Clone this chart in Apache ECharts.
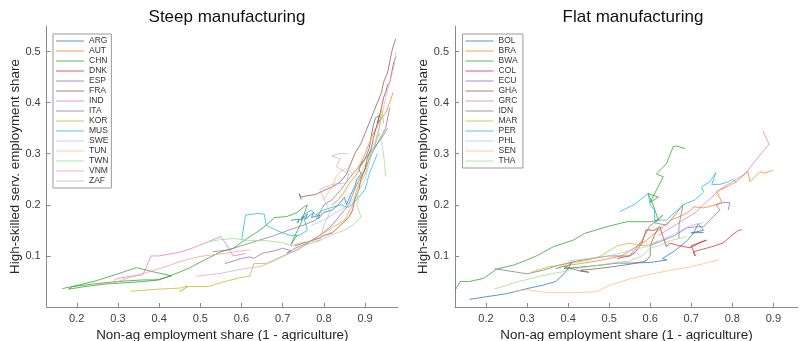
<!DOCTYPE html>
<html><head><meta charset="utf-8">
<script src="https://cdn.jsdelivr.net/npm/echarts@6/dist/echarts.min.js"></script>
<style>html,body{margin:0;padding:0;background:#fff}#c{width:803px;height:341px}</style>
</head><body><div id="c"></div>
<script>
// ---- Steep manufacturing (x = non-ag share, y = high-skilled services share)
const ARG = [[0.72,0.17],[0.74,0.172],[0.735,0.165],[0.75,0.178],[0.745,0.17],[0.76,0.182],[0.755,0.172],[0.775,0.185],[0.77,0.175],[0.79,0.18],[0.785,0.172],[0.8,0.185],[0.82,0.19],[0.835,0.2],[0.85,0.215],[0.855,0.2],[0.865,0.22],[0.875,0.235],[0.88,0.25],[0.89,0.26],[0.885,0.27],[0.9,0.29],[0.91,0.31],[0.915,0.335],[0.92,0.355],[0.925,0.37],[0.935,0.375],[0.93,0.36],[0.94,0.37]];
const AUT = [[0.82,0.2],[0.835,0.21],[0.85,0.225],[0.86,0.24],[0.87,0.25],[0.88,0.26],[0.89,0.28],[0.9,0.3],[0.91,0.32],[0.92,0.34],[0.93,0.355],[0.94,0.37],[0.95,0.38],[0.955,0.39],[0.962,0.405],[0.968,0.42]];
const CHN = [[0.165,0.036],[0.2,0.042],[0.25,0.052],[0.3,0.065],[0.345,0.077],[0.39,0.068],[0.43,0.061],[0.39,0.052],[0.33,0.048],[0.27,0.045],[0.22,0.04],[0.18,0.035],[0.19,0.04],[0.24,0.045],[0.3,0.05],[0.36,0.053],[0.4,0.053],[0.43,0.062],[0.47,0.075],[0.51,0.092],[0.55,0.108],[0.58,0.115],[0.61,0.132],[0.64,0.148],[0.66,0.16],[0.68,0.175],[0.71,0.177],[0.735,0.185],[0.75,0.195],[0.76,0.2],[0.745,0.165],[0.73,0.14],[0.72,0.122],[0.735,0.14]];
const DNK = [[0.73,0.12],[0.75,0.125],[0.77,0.13],[0.79,0.135],[0.8,0.14],[0.82,0.145],[0.84,0.16],[0.86,0.175],[0.87,0.19],[0.875,0.21],[0.885,0.23],[0.89,0.25],[0.9,0.27],[0.905,0.29],[0.915,0.31],[0.92,0.33],[0.93,0.36],[0.94,0.39],[0.945,0.41],[0.95,0.42],[0.955,0.435],[0.96,0.44],[0.965,0.46],[0.97,0.48],[0.975,0.49]];
const ESP = [[0.56,0.085],[0.58,0.09],[0.6,0.095],[0.62,0.098],[0.63,0.095],[0.65,0.105],[0.68,0.11],[0.7,0.115],[0.72,0.11],[0.71,0.105],[0.73,0.115],[0.76,0.125],[0.79,0.14],[0.82,0.16],[0.84,0.18],[0.86,0.2],[0.87,0.22],[0.88,0.24],[0.9,0.27],[0.91,0.29],[0.93,0.32],[0.95,0.35],[0.955,0.37],[0.96,0.39]];
const FRA = [[0.745,0.21],[0.74,0.222],[0.745,0.215],[0.76,0.218],[0.78,0.22],[0.8,0.228],[0.82,0.235],[0.84,0.245],[0.855,0.26],[0.865,0.28],[0.875,0.3],[0.89,0.32],[0.9,0.34],[0.91,0.36],[0.92,0.38],[0.93,0.4],[0.94,0.42],[0.945,0.44],[0.955,0.46],[0.96,0.48],[0.965,0.5],[0.97,0.515],[0.975,0.525]];
const IND = [[0.29,0.052],[0.3,0.056],[0.33,0.06],[0.36,0.063],[0.37,0.08],[0.38,0.1],[0.4,0.1],[0.45,0.107],[0.48,0.115],[0.52,0.128],[0.55,0.138],[0.565,0.12],[0.58,0.1],[0.6,0.103],[0.61,0.105]];
const ITA = [[0.53,0.108],[0.57,0.112],[0.6,0.12],[0.64,0.13],[0.68,0.14],[0.72,0.152],[0.75,0.16],[0.78,0.17],[0.8,0.2],[0.82,0.21],[0.84,0.228],[0.86,0.25],[0.88,0.27],[0.9,0.29],[0.92,0.31],[0.94,0.33],[0.955,0.35]];
const KOR = [[0.33,0.031],[0.4,0.035],[0.45,0.037],[0.47,0.041],[0.45,0.03],[0.47,0.04],[0.52,0.04],[0.56,0.05],[0.6,0.058],[0.62,0.06],[0.63,0.085],[0.66,0.085],[0.7,0.1],[0.74,0.113],[0.78,0.135],[0.82,0.155],[0.85,0.17],[0.87,0.2],[0.88,0.23],[0.9,0.26],[0.91,0.29],[0.925,0.32],[0.935,0.35],[0.94,0.39],[0.945,0.36]];
const MUS = [[0.6,0.13],[0.61,0.18],[0.64,0.183],[0.655,0.182],[0.66,0.16],[0.68,0.152],[0.7,0.145],[0.72,0.14],[0.74,0.14],[0.76,0.15],[0.75,0.18],[0.77,0.19],[0.78,0.18],[0.8,0.19],[0.82,0.195],[0.84,0.2],[0.86,0.195],[0.88,0.21],[0.9,0.23],[0.91,0.26],[0.92,0.28],[0.93,0.3]];
const SWE = [[0.77,0.16],[0.8,0.17],[0.83,0.185],[0.86,0.2],[0.88,0.22],[0.9,0.25],[0.91,0.28],[0.92,0.31],[0.93,0.34],[0.94,0.37],[0.95,0.41],[0.96,0.44],[0.97,0.47],[0.975,0.5]];
const TUN = [[0.8,0.21],[0.82,0.235],[0.83,0.255],[0.84,0.265],[0.85,0.27],[0.86,0.27],[0.87,0.26],[0.88,0.27],[0.9,0.3],[0.91,0.32],[0.92,0.34]];
const TWN = [[0.52,0.128],[0.55,0.132],[0.58,0.134],[0.62,0.13],[0.66,0.13],[0.7,0.126],[0.72,0.12],[0.75,0.127],[0.79,0.13],[0.82,0.142],[0.85,0.15],[0.87,0.16],[0.89,0.176],[0.88,0.2],[0.885,0.25],[0.9,0.28],[0.92,0.31],[0.935,0.34],[0.945,0.3],[0.95,0.255]];
const VNM = [[0.25,0.045],[0.29,0.047],[0.33,0.058],[0.38,0.07],[0.42,0.08],[0.45,0.089],[0.5,0.099],[0.56,0.105],[0.6,0.11],[0.62,0.112]];
const ZAF = [[0.49,0.06],[0.55,0.066],[0.6,0.074],[0.65,0.08],[0.7,0.098],[0.75,0.12],[0.79,0.13],[0.8,0.16],[0.815,0.185],[0.79,0.23],[0.82,0.24],[0.855,0.243],[0.86,0.26],[0.83,0.275],[0.84,0.29],[0.82,0.295],[0.835,0.3],[0.86,0.3]];

// ---- Flat manufacturing
const BOL = [[0.16,0.015],[0.2,0.02],[0.25,0.026],[0.3,0.036],[0.34,0.043],[0.37,0.05],[0.39,0.065],[0.4,0.075],[0.41,0.088],[0.39,0.075],[0.43,0.078],[0.48,0.082],[0.52,0.086],[0.55,0.086],[0.6,0.087],[0.64,0.092],[0.63,0.095],[0.66,0.11],[0.69,0.13],[0.705,0.144],[0.717,0.163],[0.73,0.15],[0.7,0.145],[0.73,0.146]];
const BRA = [[0.39,0.08],[0.43,0.085],[0.47,0.09],[0.5,0.095],[0.53,0.1],[0.56,0.115],[0.59,0.13],[0.62,0.15],[0.65,0.17],[0.68,0.18],[0.7,0.19],[0.705,0.196],[0.73,0.194],[0.76,0.2],[0.774,0.206],[0.762,0.226],[0.78,0.233],[0.81,0.245],[0.838,0.265],[0.843,0.245],[0.867,0.265],[0.88,0.262],[0.899,0.268]];
const BWA = [[0.125,0.033],[0.137,0.05],[0.16,0.05],[0.194,0.056],[0.226,0.074],[0.267,0.082],[0.3,0.092],[0.323,0.1],[0.364,0.118],[0.413,0.131],[0.44,0.144],[0.494,0.157],[0.543,0.167],[0.6,0.167],[0.62,0.17],[0.607,0.2],[0.595,0.222],[0.62,0.215],[0.6,0.205],[0.632,0.255],[0.615,0.26],[0.64,0.281],[0.656,0.314],[0.665,0.315],[0.685,0.31]];
const COL = [[0.52,0.095],[0.55,0.1],[0.563,0.106],[0.58,0.125],[0.59,0.151],[0.61,0.15],[0.624,0.157],[0.63,0.14],[0.64,0.118],[0.648,0.125],[0.67,0.12],[0.697,0.116],[0.72,0.125],[0.737,0.131],[0.7,0.12],[0.71,0.1],[0.705,0.108],[0.75,0.118],[0.777,0.125],[0.8,0.141],[0.815,0.15],[0.823,0.151]];
const ECU = [[0.6,0.12],[0.63,0.13],[0.66,0.14],[0.69,0.155],[0.71,0.157],[0.73,0.157],[0.745,0.17],[0.754,0.177],[0.77,0.19],[0.76,0.2],[0.78,0.205],[0.794,0.204],[0.79,0.19]];
const GHA = [[0.37,0.075],[0.39,0.08],[0.41,0.075],[0.43,0.07],[0.45,0.068],[0.43,0.072],[0.47,0.075],[0.52,0.08],[0.56,0.085],[0.59,0.09],[0.6,0.1],[0.6,0.12],[0.61,0.14],[0.62,0.155]];
const GRC = [[0.62,0.14],[0.65,0.155],[0.68,0.17],[0.71,0.185],[0.73,0.2],[0.75,0.215],[0.77,0.23],[0.79,0.24],[0.81,0.25],[0.83,0.26],[0.85,0.28],[0.87,0.3],[0.885,0.315],[0.89,0.318],[0.88,0.335],[0.875,0.345]];
const IDN = [[0.22,0.075],[0.26,0.07],[0.3,0.065],[0.34,0.072],[0.37,0.08],[0.42,0.09],[0.46,0.095],[0.5,0.1],[0.55,0.1],[0.58,0.13],[0.6,0.16],[0.62,0.17],[0.63,0.18],[0.61,0.165],[0.64,0.16],[0.66,0.18],[0.68,0.2],[0.67,0.16],[0.67,0.135]];
const MAR = [[0.31,0.068],[0.35,0.078],[0.4,0.085],[0.45,0.092],[0.48,0.1],[0.5,0.11],[0.52,0.12],[0.55,0.125],[0.58,0.12],[0.6,0.122],[0.62,0.13]];
const PER = [[0.526,0.187],[0.56,0.2],[0.595,0.222],[0.6,0.2],[0.61,0.19],[0.611,0.17],[0.64,0.17],[0.66,0.185],[0.68,0.2],[0.71,0.21],[0.73,0.225],[0.725,0.235],[0.745,0.245],[0.76,0.263],[0.75,0.24],[0.77,0.24],[0.79,0.245],[0.8,0.25],[0.81,0.245]];
const PHL = [[0.4,0.09],[0.45,0.095],[0.5,0.1],[0.55,0.11],[0.6,0.12],[0.65,0.14],[0.7,0.16],[0.73,0.165]];
const SEN = [[0.265,0.03],[0.3,0.034],[0.35,0.028],[0.42,0.028],[0.47,0.03],[0.5,0.042],[0.55,0.055],[0.6,0.064],[0.65,0.072],[0.7,0.079],[0.766,0.092]];
const THA = [[0.22,0.035],[0.28,0.05],[0.33,0.06],[0.38,0.068],[0.42,0.075],[0.46,0.08],[0.5,0.085],[0.55,0.09],[0.58,0.1],[0.6,0.115],[0.625,0.121],[0.65,0.13],[0.69,0.138]];

const steepNames = ['ARG','AUT','CHN','DNK','ESP','FRA','IND','ITA','KOR','MUS','SWE','TUN','TWN','VNM','ZAF'];
const steepSeries = [ARG,AUT,CHN,DNK,ESP,FRA,IND,ITA,KOR,MUS,SWE,TUN,TWN,VNM,ZAF];
const flatNames = ['BOL','BRA','BWA','COL','ECU','GHA','GRC','IDN','MAR','PER','PHL','SEN','THA'];
const flatSeries = [BOL,BRA,BWA,COL,ECU,GHA,GRC,IDN,MAR,PER,PHL,SEN,THA];
const xTicks = [0.2,0.3,0.4,0.5,0.6,0.7,0.8,0.9];
const yTicks = [0.1,0.2,0.3,0.4,0.5];
const palette = ['#1f77b4','#ff7f0e','#2ca02c','#d62728','#9467bd','#8c564b','#e377c2','#7f7f7f','#bcbd22','#17becf','#aec7e8','#ffbb78','#98df8a','#ff9896','#c5b0d5'];

const FONT = 'Liberation Sans, Arial, Helvetica, sans-serif';
const axisCol = '#8a8a8a';
function xAx(idx, min, max){
  return {type:'value', gridIndex:idx, min:min, max:max,
    name:'Non-ag employment share (1 - agriculture)', nameLocation:'middle', nameGap:18,
    nameTextStyle:{fontFamily:FONT, fontSize:13.4, color:'#262626', verticalAlign:'top'},
    axisLine:{lineStyle:{color:axisCol,width:1}},
    axisTick:{inside:true,length:4,customValues:xTicks,lineStyle:{color:axisCol}},
    axisLabel:{customValues:xTicks,margin:6,fontFamily:FONT,fontSize:11,color:'#404040',formatter:v=>(+v).toFixed(1)},
    splitLine:{show:false}};
}
function yAx(idx, gap){
  return {type:'value', gridIndex:idx, min:0, max:0.55,
    name:'High-skilled serv. employment share', nameLocation:'middle', nameGap:gap,
    nameTextStyle:{fontFamily:FONT, fontSize:13.4, color:'#262626'},
    axisLine:{show:true,lineStyle:{color:axisCol,width:1}},
    axisTick:{show:true,inside:true,length:4,customValues:yTicks,lineStyle:{color:axisCol}},
    axisLabel:{customValues:yTicks,margin:6,fontFamily:FONT,fontSize:11,color:'#404040',formatter:v=>(+v).toFixed(1)},
    splitLine:{show:false}};
}
const series = [];
steepNames.forEach((n,i)=>series.push({name:n,type:'line',xAxisIndex:0,yAxisIndex:0,data:steepSeries[i],symbol:'none',
  color:palette[i],lineStyle:{width:1,opacity:0.75,color:palette[i]},silent:true}));
flatNames.forEach((n,i)=>series.push({name:n+' ',type:'line',xAxisIndex:1,yAxisIndex:1,data:flatSeries[i],symbol:'none',
  color:palette[i],lineStyle:{width:1,opacity:0.75,color:palette[i]},silent:true}));

const LINE_ICON = 'path://M0,0L0.01,0L0,0.01Z M0,4.5L28,4.5L28,5.5L0,5.5Z M27.99,10L28,10L28,9.99Z';
function legend(left, names){
  return {left:left, top:34, orient:'vertical', data:names, icon:LINE_ICON, padding:[2,3,2,3], itemWidth:28, itemHeight:10, itemGap:0,
    borderColor:'#9a9a9a', borderWidth:1, selectedMode:false, itemStyle:{opacity:0.75},
    textStyle:{fontFamily:FONT,fontSize:8.5,color:'#333',lineHeight:10}};
}

const chart = echarts.init(document.getElementById('c'), null, {renderer:'canvas'});
chart.setOption({
  animation:false,
  backgroundColor:'#fff',
  title:[
    {text:'Steep manufacturing', left:222, top:4, textAlign:'center', textStyle:{fontFamily:FONT,fontSize:17,fontWeight:'normal',color:'#111'}},
    {text:'Flat manufacturing', left:628, top:4, textAlign:'center', textStyle:{fontFamily:FONT,fontSize:17,fontWeight:'normal',color:'#111'}}
  ],
  grid:[
    {left:46.7, top:26, width:351.3, height:281, containLabel:false, outerBoundsMode:'none'},
    {left:455, top:26, width:343, height:281, containLabel:false, outerBoundsMode:'none'}
  ],
  xAxis:[xAx(0,0.127,0.98), xAx(1,0.1245,0.96)],
  yAxis:[yAx(0,23), yAx(1,22.5)],
  legend:[legend(53, steepNames), legend(462.5, flatNames.map(n=>n+' '))],
  series:series
});
</script></body></html>
